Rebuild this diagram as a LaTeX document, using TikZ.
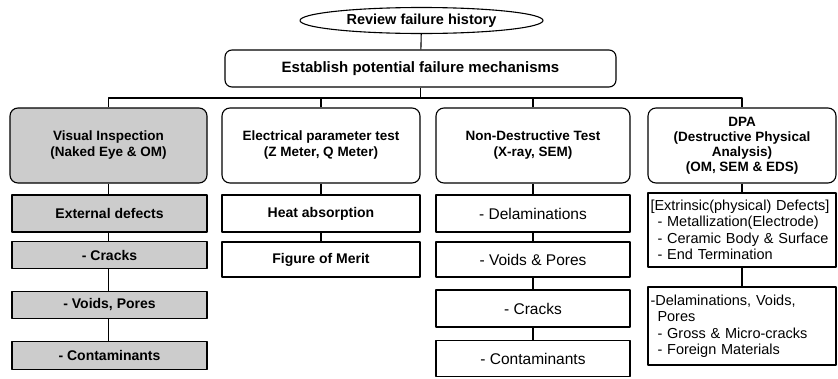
\documentclass[tikz,border=0pt]{standalone}
\usepackage{fontspec}
\setmainfont{Liberation Sans}
\usetikzlibrary{shapes.geometric}

\begin{document}
\begin{tikzpicture}[x=1pt, y=-1pt, line width=1.1pt, line join=round]
	\tikzset{
		hist/.style={draw, ellipse, minimum width=243pt, minimum height=26pt, inner sep=0pt, font=\fontsize{14.5}{17}\selectfont\bfseries},
		mech/.style={draw, rounded corners=7pt, minimum width=391pt, minimum height=37pt, inner sep=0pt, font=\fontsize{15}{17}\selectfont\bfseries},
		head/.style={draw, rounded corners=8pt, minimum height=75pt, inner sep=0pt, align=center, font=\fontsize{13.5}{16}\selectfont\bfseries},
		itembox/.style={draw, inner sep=0pt, align=center, font=\fontsize{14}{16}\selectfont\bfseries},
		thinbox/.style={draw, inner sep=0pt, align=center, font=\fontsize{15.5}{17}\selectfont},
		listbox/.style={draw, inner xsep=2.5pt, inner ysep=0pt, text width=183pt, align=left, font=\fontsize{14.5}{16.5}\selectfont},
		shaded/.style={fill=black!20}
	}
	\useasboundingbox (0,0) rectangle (838,378);
	
	\node[hist] (review) at (421.5,20.5) {Review failure history};
	\node[mech] (estab) at (420.5,68.5) {Establish potential failure mechanisms};
	
	\node[head, shaded, minimum width=197pt] (vis) at (108.5,145.5) {Visual Inspection\\(Naked Eye \& OM)};
	\node[head, minimum width=198pt] (elec) at (321,145.5) {Electrical parameter test\\(Z Meter, Q Meter)};
	\node[head, minimum width=194pt] (ndt) at (533,145.5) {Non-Destructive Test\\(X-ray, SEM)};
	\node[head, minimum width=188pt, font=\fontsize{13.5}{15}\selectfont\bfseries] (dpa) at (742,145.5) {DPA\\(Destructive Physical\\Analysis)\\(OM, SEM \& EDS)};
	
	\node[itembox, shaded, minimum width=195pt, minimum height=37pt] (ext) at (109.5,213.5) {External defects};
	\node[itembox, shaded, minimum width=195pt, minimum height=27pt] (crackA) at (109.5,255) {- Cracks};
	\node[itembox, shaded, minimum width=195pt, minimum height=27pt] (voidA) at (109.5,305) {- Voids, Pores};
	\node[itembox, shaded, minimum width=195pt, minimum height=28pt] (contA) at (109.5,355.5) {- Contaminants};
	
	\node[itembox, minimum width=198pt, minimum height=37pt] (heat) at (321,213.5) {Heat absorption};
	\node[itembox, minimum width=198pt, minimum height=35pt] (fom) at (321,259.5) {Figure of Merit};
	
	\node[thinbox, minimum width=194pt, minimum height=37pt] (delam) at (533,213.5) {- Delaminations};
	\node[thinbox, minimum width=194pt, minimum height=35pt] (voidB) at (533,259.5) {- Voids \& Pores};
	\node[thinbox, minimum width=194pt, minimum height=37pt] (crackB) at (533,308.5) {- Cracks};
	\node[thinbox, minimum width=194pt, minimum height=36pt] (contB) at (533,358.5) {- Contaminants};
	
	\node[listbox, minimum height=74pt] (extr) at (742,230) {[Extrinsic(physical) Defects]\\\hspace*{7pt}- Metallization(Electrode)\\\hspace*{7pt}- Ceramic Body \& Surface\\\hspace*{7pt}- End Termination};
	\node[listbox, minimum height=78pt] (intr) at (742,326) {-Delaminations, Voids,\\\hspace*{7pt}Pores\\\hspace*{7pt}- Gross \& Micro-cracks\\\hspace*{7pt}- Foreign Materials};
	
	\coordinate (bus) at (420.5,98);
	\draw (review) -- (estab);
	\draw (estab) -- (bus);
	\draw (vis.north) |- (bus) -| (dpa.north);
	\draw (elec.north) -- (elec.north |- bus);
	\draw (ndt.north) -- (ndt.north |- bus);
	
	\draw (vis) -- (vis |- ext.north);
	\draw (ext.south -| vis) -- (vis |- crackA.north);
	\draw (crackA.south -| vis) -- (vis |- voidA.north);
	\draw (voidA.south -| vis) -- (vis |- contA.north);
	\draw (elec) -- (heat);
	\draw (heat) -- (fom);
	\draw (ndt) -- (delam);
	\draw (delam) -- (voidB);
	\draw (voidB) -- (crackB);
	\draw (crackB) -- (contB);
	\draw (dpa) -- (extr);
	\draw (extr) -- (intr);
\end{tikzpicture}
\end{document}
